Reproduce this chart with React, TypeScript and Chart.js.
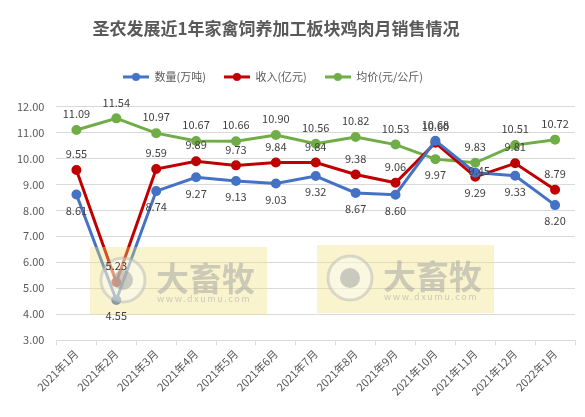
import React, { useEffect, useRef } from "react";
import { Chart, registerables } from "chart.js";

Chart.register(...registerables);

const FONT = '"Noto Sans CJK SC", "Noto Sans", sans-serif';

const months = [
  "2021年1月", "2021年2月", "2021年3月", "2021年4月", "2021年5月", "2021年6月", "2021年7月",
  "2021年8月", "2021年9月", "2021年10月", "2021年11月", "2021年12月", "2022年1月",
];
const volume = [8.61, 4.55, 8.74, 9.27, 9.13, 9.03, 9.32, 8.67, 8.6, 10.68, 9.45, 9.33, 8.2];
const revenue = [9.55, 5.23, 9.59, 9.89, 9.73, 9.84, 9.84, 9.38, 9.06, 10.6, 9.29, 9.81, 8.79];
const price = [11.09, 11.54, 10.97, 10.67, 10.66, 10.9, 10.56, 10.82, 10.53, 9.97, 9.83, 10.51, 10.72];
const yMin = 3;
const yMax = 12;
const yStep = 1;

// where each data label sits relative to its point
const B = "below", A = "above", C = "center";
const volumeLabelPos = [B, B, B, B, B, B, B, B, B, A, C, B, B];
const revenueLabelPos = [A, A, A, A, A, A, A, A, A, A, B, A, A];
const priceLabelPos = [A, A, A, A, A, A, A, A, A, B, A, A, A];

const makeMarker = (color: string) => {
  const c = document.createElement("canvas");
  c.width = 26;
  c.height = 10;
  const ctx = c.getContext("2d")!;
  ctx.strokeStyle = color;
  ctx.lineWidth = 3;
  ctx.beginPath();
  ctx.moveTo(0, 5);
  ctx.lineTo(26, 5);
  ctx.stroke();
  ctx.fillStyle = color;
  ctx.beginPath();
  ctx.arc(13, 5, 4, 0, Math.PI * 2);
  ctx.fill();
  return c;
};

const drawWatermark = (ctx: CanvasRenderingContext2D, x: number, y: number) => {
  ctx.save();
  ctx.fillStyle = "rgba(238, 224, 120, 0.36)";
  ctx.fillRect(x, y, 177, 68);
  ctx.globalAlpha = 0.5;
  ctx.beginPath();
  ctx.arc(x + 33, y + 33, 22, 0, Math.PI * 2);
  ctx.fillStyle = "rgba(255,255,255,0.8)";
  ctx.fill();
  ctx.lineWidth = 3;
  ctx.strokeStyle = "#b8b8b8";
  ctx.stroke();
  ctx.beginPath();
  ctx.arc(x + 33, y + 33, 10, 0, Math.PI * 2);
  ctx.fillStyle = "#9a9a9a";
  ctx.fill();
  ctx.fillStyle = "#a0a0a0";
  ctx.font = `bold 33px ${FONT}`;
  ctx.textBaseline = "middle";
  ctx.textAlign = "left";
  ctx.fillText("大畜牧", x + 66, y + 31);
  ctx.font = `9px ${FONT}`;
  (ctx as any).letterSpacing = "1.6px";
  ctx.fillText("www.dxumu.com", x + 67, y + 52);
  ctx.restore();
};

const overlayPlugin = {
  id: "overlay",
  beforeInit(chart: any) {
    // leave room between the legend and the plot
    const fit = chart.legend.fit;
    chart.legend.fit = function () {
      fit.call(this);
      this.height += 14;
    };
  },
  afterLayout(chart: any) {
    // title and legend sit left of the canvas centre in the original
    chart.titleBlock.left -= 14;
    chart.titleBlock.right -= 14;
    chart.legend.left -= 17;
    chart.legend.right -= 17;
  },
  afterDatasetsDraw(chart: any) {
    const ctx = chart.ctx as CanvasRenderingContext2D;
    drawWatermark(ctx, 90, 247);
    drawWatermark(ctx, 317, 245);
    const positions = [volumeLabelPos, revenueLabelPos, priceLabelPos];
    ctx.save();
    ctx.font = `11px ${FONT}`;
    ctx.fillStyle = "#404040";
    ctx.textAlign = "center";
    ctx.textBaseline = "middle";
    chart.data.datasets.forEach((ds: any, i: number) => {
      const meta = chart.getDatasetMeta(i);
      meta.data.forEach((pt: any, j: number) => {
        const pos = positions[i][j];
        const dy = pos === "above" ? -16 : pos === "below" ? 16 : -2;
        const dx = pos === "center" ? 4 : 0;
        ctx.fillText(ds.data[j].toFixed(2), pt.x + dx, pt.y + dy);
      });
    });
    ctx.restore();
  },
};

const line = (label: string, data: number[], color: string) => ({
  label,
  data,
  borderColor: color,
  backgroundColor: color,
  pointBackgroundColor: color,
  pointBorderColor: color,
  borderWidth: 3,
  pointRadius: 3.5,
  pointStyle: "circle",
  tension: 0,
  legendMarker: makeMarker(color),
});

const App = () => {
  const chartRef = useRef<HTMLCanvasElement>(null);
  const chartInstanceRef = useRef<Chart | null>(null);

  useEffect(() => {
    if (!chartRef.current) return;
    const context = chartRef.current.getContext("2d");
    if (!context) return;
    chartInstanceRef.current = new Chart(context, {
      type: "line",
      data: {
        labels: months,
        datasets: [
          line("数量(万吨)", volume, "#4472C4"),
          line("收入(亿元)", revenue, "#C00000"),
          line("均价(元/公斤)", price, "#70AD47"),
        ] as any,
      },
      options: {
        animation: false,
        responsive: true,
        maintainAspectRatio: false,
        layout: { padding: { left: 5, right: 10, top: 0, bottom: 17 } },
        scales: {
          x: {
            offset: true,
            grid: {
              offset: true,
              drawOnChartArea: false,
              drawTicks: true,
              tickLength: 5,
              color: "#D9D9D9",
            },
            border: { color: "#D9D9D9" },
            ticks: {
              color: "#595959",
              font: { family: FONT, size: 11 },
              minRotation: 45,
              maxRotation: 45,
              autoSkip: false,
              padding: 2,
            },
          },
          y: {
            min: yMin,
            max: yMax,
            grid: { color: "#D9D9D9", drawTicks: false },
            border: { display: false },
            ticks: {
              stepSize: yStep,
              color: "#595959",
              font: { family: FONT, size: 11 },
              padding: 12,
              callback: (v: any) => Number(v).toFixed(2),
            },
          },
        },
        plugins: {
          title: {
            display: true,
            text: "圣农发展近1年家禽饲养加工板块鸡肉月销售情况",
            color: "#595959",
            font: { family: FONT, size: 17, weight: "bold" },
            padding: { top: 18, bottom: 15 },
          },
          legend: {
            display: true,
            position: "top",
            labels: {
              usePointStyle: true,
              pointStyleWidth: 26,
              color: "#595959",
              font: { family: FONT, size: 11 },
              padding: 18,
              generateLabels: (chart: any) =>
                chart.data.datasets.map((ds: any, i: number) => ({
                  text: ds.label,
                  fillStyle: ds.borderColor,
                  strokeStyle: ds.borderColor,
                  fontColor: "#595959",
                  pointStyle: ds.legendMarker,
                  lineWidth: 0,
                  hidden: false,
                  datasetIndex: i,
                })),
            },
          },
          tooltip: { enabled: false },
        },
      },
      plugins: [overlayPlugin],
    });
    return () => {
      if (chartInstanceRef.current) {
        chartInstanceRef.current.destroy();
        chartInstanceRef.current = null;
      }
    };
  }, []);

  return (
    <div style={{ position: "fixed", left: 0, top: 0, width: 585, height: 417, background: "#fff" }}>
      <canvas ref={chartRef} />
    </div>
  );
};

export default App;
